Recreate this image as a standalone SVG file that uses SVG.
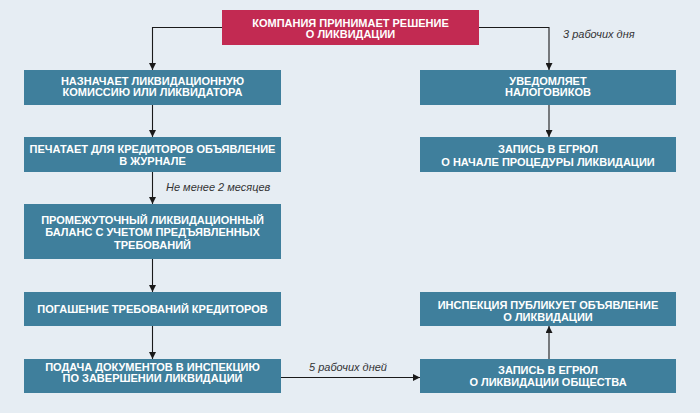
<svg xmlns="http://www.w3.org/2000/svg" width="700" height="413" viewBox="0 0 700 413">
<defs>
<marker id="ah" viewBox="0 0 10 10" refX="10" refY="5" markerWidth="7" markerHeight="7" markerUnits="userSpaceOnUse" orient="auto">
<path d="M0,0 L10,5 L0,10 z" fill="#1a1a1a"/>
</marker>
<style>
.bx{fill:#3f7f9c}
.red{fill:#c22a52}
.t{font-family:"Liberation Sans Narrow","Liberation Sans",Arial,sans-serif;font-weight:bold;font-size:11px;fill:#ffffff;text-anchor:middle}
.lb{font-family:"Liberation Sans",Arial,sans-serif;font-style:italic;font-size:11px;fill:#333333}
.c{fill:none;stroke:#1a1a1a;stroke-width:1.1;marker-end:url(#ah)}
</style>
</defs>
<rect width="700" height="413" fill="#e6edf3"/>
<g id="connectors">
<path class="c" d="M222,27.5 H152.5 V70"/>
<path class="c" d="M479,27.5 H549 V70"/>
<path class="c" d="M152.5,105 V137"/>
<path class="c" d="M152.5,172 V204"/>
<path class="c" d="M152.5,259 V292"/>
<path class="c" d="M152.5,326 V359"/>
<path class="c" d="M549,105 V137"/>
<path class="c" d="M281,377.5 H420"/>
<path class="c" d="M549,359 V326"/>
<text class="lb" x="563" y="38">3 рабочих дня</text>
<text class="lb" x="166" y="191">Не менее 2 месяцев</text>
<text class="lb" x="309" y="371">5 рабочих дней</text>
</g>
<g id="n0">
<rect class="red" x="222" y="10" width="257" height="35"/>
<text class="t" x="350.5" y="27">КОМПАНИЯ ПРИНИМАЕТ РЕШЕНИЕ</text>
<text class="t" x="350.5" y="38">О ЛИКВИДАЦИИ</text>
</g>
<g id="n1">
<rect class="bx" x="24" y="70" width="257" height="35"/>
<text class="t" x="152.5" y="85">НАЗНАЧАЕТ ЛИКВИДАЦИОННУЮ</text>
<text class="t" x="152.5" y="96">КОМИССИЮ ИЛИ ЛИКВИДАТОРА</text>
</g>
<g id="n2">
<rect class="bx" x="24" y="137" width="257" height="35"/>
<text class="t" x="152.5" y="153">ПЕЧАТАЕТ ДЛЯ КРЕДИТОРОВ ОБЪЯВЛЕНИЕ</text>
<text class="t" x="152.5" y="164.5">В ЖУРНАЛЕ</text>
</g>
<g id="n3">
<rect class="bx" x="24" y="204" width="257" height="55"/>
<text class="t" x="152.5" y="224">ПРОМЕЖУТОЧНЫЙ ЛИКВИДАЦИОННЫЙ</text>
<text class="t" x="152.5" y="236">БАЛАНС С УЧЕТОМ ПРЕДЪЯВЛЕННЫХ</text>
<text class="t" x="152.5" y="248.5">ТРЕБОВАНИЙ</text>
</g>
<g id="n4">
<rect class="bx" x="24" y="292" width="257" height="34"/>
<text class="t" x="152.5" y="313">ПОГАШЕНИЕ ТРЕБОВАНИЙ КРЕДИТОРОВ</text>
</g>
<g id="n5">
<rect class="bx" x="24" y="359" width="257" height="34"/>
<text class="t" x="152.5" y="371">ПОДАЧА ДОКУМЕНТОВ В ИНСПЕКЦИЮ</text>
<text class="t" x="152.5" y="382">ПО ЗАВЕРШЕНИИ ЛИКВИДАЦИИ</text>
</g>
<g id="r1">
<rect class="bx" x="420" y="70" width="256" height="35"/>
<text class="t" x="548" y="85">УВЕДОМЛЯЕТ</text>
<text class="t" x="548" y="95.5">НАЛОГОВИКОВ</text>
</g>
<g id="r2">
<rect class="bx" x="420" y="137" width="256" height="35"/>
<text class="t" x="548" y="152.5">ЗАПИСЬ В ЕГРЮЛ</text>
<text class="t" x="548" y="165.5">О НАЧАЛЕ ПРОЦЕДУРЫ ЛИКВИДАЦИИ</text>
</g>
<g id="r3">
<rect class="bx" x="420" y="292" width="256" height="34"/>
<text class="t" x="548" y="309">ИНСПЕКЦИЯ ПУБЛИКУЕТ ОБЪЯВЛЕНИЕ</text>
<text class="t" x="548" y="320.5">О ЛИКВИДАЦИИ</text>
</g>
<g id="r4">
<rect class="bx" x="420" y="359" width="256" height="34"/>
<text class="t" x="548" y="374">ЗАПИСЬ В ЕГРЮЛ</text>
<text class="t" x="548" y="385.5">О ЛИКВИДАЦИИ ОБЩЕСТВА</text>
</g>
</svg>
